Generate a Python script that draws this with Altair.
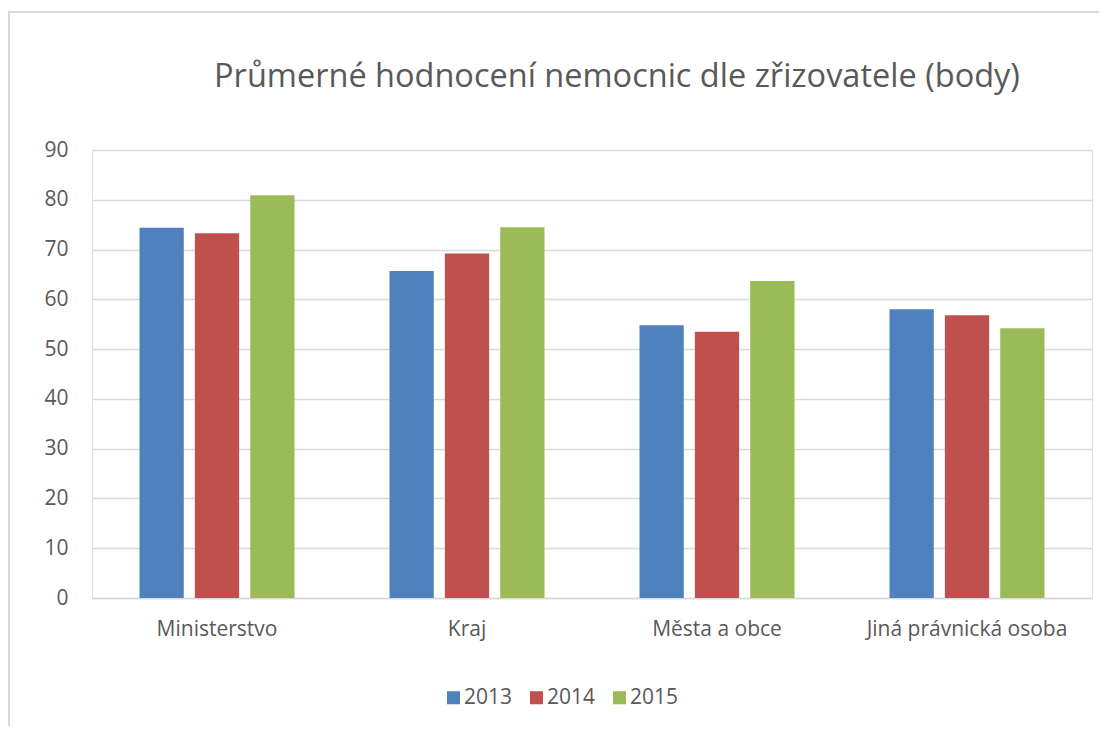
import altair as alt
import pandas as pd

categories = ["Ministerstvo", "Kraj", "Města a obce", "Jiná právnická osoba"]
years = ["2013", "2014", "2015"]
v2013 = [74.4, 65.7, 54.8, 58.0]
v2014 = [73.3, 69.2, 53.5, 56.8]
v2015 = [80.9, 74.5, 63.7, 54.2]
colors = ["#4F81BD", "#C0504D", "#9BBB59"]
title_text = "Průmerné hodnocení nemocnic dle zřizovatele (body)"

rows = []
for i, c in enumerate(categories):
    for y, vals in zip(years, [v2013, v2014, v2015]):
        rows.append({"kategorie": c, "rok": y, "body": vals[i]})
df = pd.DataFrame(rows)

FONT = "Open Sans"
GREY = "#595959"
LS = 21

bars = alt.Chart(df).mark_bar().encode(
    x=alt.X("kategorie:N", sort=categories, title=None,
            scale=alt.Scale(paddingInner=0.38, paddingOuter=0.19),
            axis=alt.Axis(labelAngle=0, labelFontSize=LS, labelColor=GREY,
                          labelFont=FONT, domain=True, domainColor="#D9D9D9",
                          domainWidth=1.5, ticks=False, labelPadding=20,
                          labelLimit=400)),
    xOffset=alt.XOffset("rok:N", scale=alt.Scale(paddingInner=0.2)),
    y=alt.Y("body:Q", title=None,
            scale=alt.Scale(domain=[0, 90]),
            axis=alt.Axis(values=list(range(0, 91, 10)), labelFontSize=LS,
                          labelColor=GREY, labelFont=FONT, domain=False,
                          ticks=False, gridColor="#D9D9D9", gridWidth=1.5,
                          labelPadding=24)),
    color=alt.Color("rok:N", title=None,
                    scale=alt.Scale(domain=years, range=colors),
                    legend=alt.Legend(orient="none", direction="horizontal",
                                      legendX=351, legendY=537,
                                      symbolType="square", symbolSize=170,
                                      symbolStrokeWidth=0,
                                      labelFontSize=LS, labelColor=GREY,
                                      labelFont=FONT, columnPadding=13,
                                      labelOffset=0)),
)

border = alt.Chart(df).mark_rect(fill=None, stroke="#D9D9D9", strokeWidth=1.5, clip=False).encode(
    x=alt.value(-83), x2=alt.value(1100), y=alt.value(-138), y2=alt.value(700)
)

title = alt.Chart(pd.DataFrame({"t": [title_text]})).mark_text(
    font=FONT, fontSize=32.5, color=GREY, align="center", baseline="middle", clip=False
).encode(text="t:N", x=alt.value(525), y=alt.value(-73))

chart = alt.layer(border, bars, title).properties(
    width=1000, height=448,
    autosize=alt.AutoSizeParams(type="none"),
    padding={"left": 84, "top": 142, "right": 7, "bottom": 128},
).configure_view(stroke=None).configure(background="white")

chart.save("out.html", embed_options={"renderer": "svg", "actions": False})
